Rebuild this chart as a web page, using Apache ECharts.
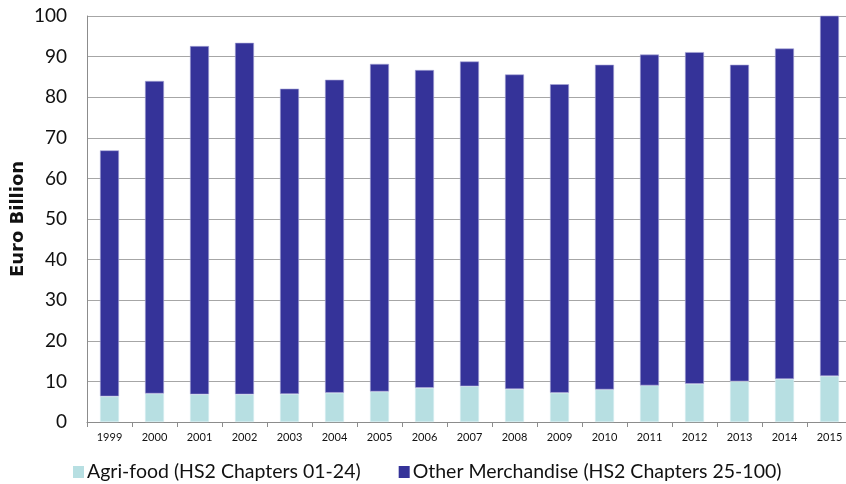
<!DOCTYPE html>
<html>
<head>
<meta charset="utf-8">
<script src="https://cdn.jsdelivr.net/npm/echarts@6/dist/echarts.min.js"></script>
<style>
  html, body { margin: 0; padding: 0; background: #fff; }
  #chart { width: 846px; height: 484px; }
</style>
</head>
<body>
<div id="chart"></div>
<script>
// Years on the category axis
const years = ['1999','2000','2001','2002','2003','2004','2005','2006','2007','2008','2009','2010','2011','2012','2013','2014','2015'];
// Agri-food exports, Euro billion
const agriFood = [6.3, 7.0, 6.8, 6.8, 6.9, 7.2, 7.5, 8.4, 8.8, 8.1, 7.2, 8.0, 9.0, 9.4, 10.0, 10.6, 11.3];
// Other merchandise exports, Euro billion
const otherMerch = [60.6, 77.0, 85.8, 86.6, 75.2, 77.1, 80.7, 78.3, 80.0, 77.5, 76.0, 80.0, 81.5, 81.7, 78.0, 81.4, 89.2];

const FONT = 'Lato';
const chart = echarts.init(document.getElementById('chart'));
chart.setOption({
  animation: false,
  grid: { left: 87, right: -6, top: 16, bottom: 62, containLabel: false, outerBoundsMode: 'none' },
  legend: {
    left: 68, top: 457,
    itemWidth: 11, itemHeight: 12, itemGap: 38,
    icon: 'rect',
    itemStyle: { borderWidth: 0 },
    textStyle: { fontFamily: FONT, fontSize: 19.5, color: '#111', padding: [0, 0, 0, -2] },
    data: ['Agri-food (HS2 Chapters 01-24)', 'Other Merchandise (HS2 Chapters 25-100)']
  },
  xAxis: {
    type: 'category',
    data: years,
    axisLine: { lineStyle: { color: '#8c8c8c', width: 1 } },
    axisTick: { show: true, alignWithLabel: false, length: 5, lineStyle: { color: '#8c8c8c' } },
    axisLabel: { fontFamily: FONT, fontSize: 11, color: '#111', margin: 10 }
  },
  yAxis: {
    type: 'value',
    min: 0, max: 100, interval: 10,
    name: 'Euro Billion',
    nameLocation: 'middle',
    nameGap: 60,
    nameMoveOverlap: false,
    nameTextStyle: { fontFamily: 'DejaVu Sans', fontSize: 18, fontWeight: 'bold', color: '#111' },
    axisLine: { show: true, lineStyle: { color: '#8c8c8c' } },
    axisTick: { show: false },
    axisLabel: { fontFamily: FONT, fontSize: 19, color: '#111', margin: 20 },
    splitLine: { lineStyle: { color: '#a6a6a6', width: 1 } }
  },
  series: [
    {
      name: 'Agri-food (HS2 Chapters 01-24)',
      type: 'bar',
      stack: 'total',
      barWidth: 19,
      data: agriFood,
      itemStyle: { color: '#b7dfe2', borderColor: '#d8eef0', borderWidth: 0.6 }
    },
    {
      name: 'Other Merchandise (HS2 Chapters 25-100)',
      type: 'bar',
      stack: 'total',
      barWidth: 19,
      data: otherMerch,
      itemStyle: { color: '#353399', borderColor: '#a9a8d6', borderWidth: 0.6 }
    }
  ]
});
</script>
</body>
</html>
